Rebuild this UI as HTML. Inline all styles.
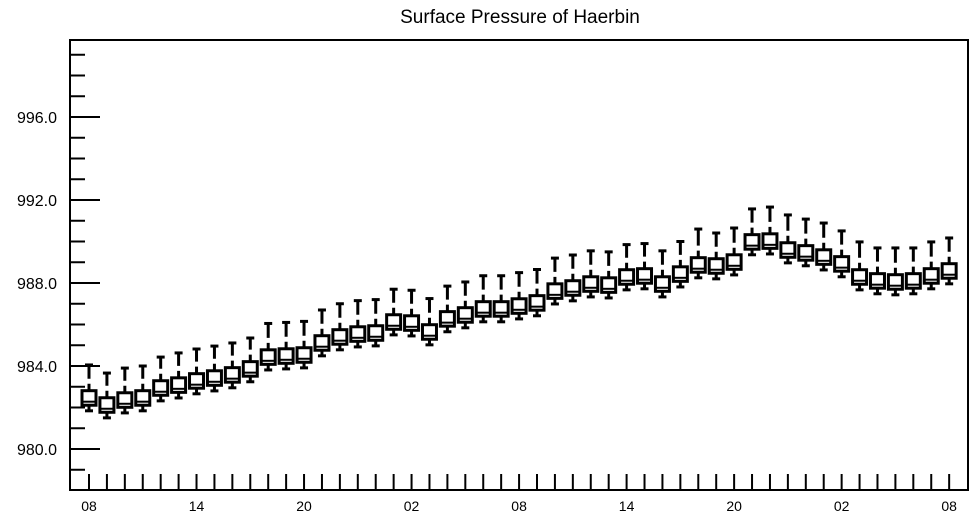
<!DOCTYPE html>
<html><head><meta charset="utf-8"><style>
body{margin:0;background:#fff}
svg{display:block;font-family:"Liberation Sans",sans-serif}
</style></head><body>
<svg id="chart" width="975" height="518" viewBox="0 0 975 518">
<text x="520" y="23" font-size="19" text-anchor="middle">Surface Pressure of Haerbin</text>
<g id="plot"></g>
<rect x="70" y="40" width="898" height="450" fill="none" stroke="#000" stroke-width="2"/>
</svg>
<script>
const xLabels=["08","14","20","02","08","14","20","02","08"];
const yTicks=[980,984,988,992,996];
const high=[984.05,983.66,983.90,984.00,984.43,984.63,984.82,984.96,985.11,985.35,986.05,986.10,986.15,986.70,987.00,987.15,987.20,987.70,987.65,987.25,987.85,988.05,988.35,988.35,988.50,988.65,989.20,989.35,989.55,989.50,989.85,989.90,989.55,990.00,990.60,990.41,990.65,991.57,991.66,991.28,991.08,990.89,990.51,989.98,989.69,989.69,989.69,989.98,990.17];
const q3=[982.81,982.47,982.71,982.81,983.29,983.43,983.63,983.77,983.92,984.21,984.78,984.83,984.88,985.46,985.75,985.89,985.94,986.47,986.42,985.99,986.62,986.81,987.10,987.10,987.24,987.39,987.96,988.11,988.30,988.25,988.64,988.69,988.30,988.78,989.22,989.17,989.36,990.33,990.37,989.94,989.80,989.60,989.27,988.64,988.45,988.40,988.45,988.69,988.93];
const median=[982.28,981.94,982.18,982.28,982.76,982.90,983.10,983.24,983.39,983.68,984.25,984.30,984.35,984.93,985.22,985.36,985.41,985.94,985.89,985.46,986.09,986.28,986.57,986.57,986.71,986.86,987.43,987.58,987.77,987.72,988.11,988.16,987.77,988.25,988.69,988.64,988.83,989.80,989.84,989.41,989.27,989.07,988.74,988.11,987.92,987.87,987.92,988.16,988.40];
const q1=[982.11,981.77,982.01,982.11,982.59,982.73,982.93,983.07,983.22,983.51,984.08,984.13,984.18,984.76,985.05,985.19,985.24,985.77,985.72,985.29,985.92,986.11,986.40,986.40,986.54,986.69,987.26,987.41,987.60,987.55,987.94,987.99,987.60,988.08,988.52,988.47,988.66,989.63,989.67,989.24,989.10,988.90,988.57,987.94,987.75,987.70,987.75,987.99,988.23];
const low=[981.84,981.50,981.74,981.84,982.32,982.46,982.66,982.80,982.95,983.24,983.81,983.86,983.91,984.49,984.78,984.92,984.97,985.50,985.45,985.02,985.65,985.84,986.13,986.13,986.27,986.42,986.99,987.14,987.33,987.28,987.67,987.72,987.33,987.81,988.25,988.20,988.39,989.36,989.40,988.97,988.83,988.63,988.30,987.67,987.48,987.43,987.48,987.72,987.96];

const NS="http://www.w3.org/2000/svg";
const g=document.getElementById('plot');
const xs=i=>89+i*17.92;
const ys=v=>117+(996-v)*20.75;
function mk(tag,attrs){const e=document.createElementNS(NS,tag);for(const k in attrs)e.setAttribute(k,attrs[k]);g.appendChild(e);return e;}
// y ticks: minor every 1, major with labels
for(let v=979;v<=999;v++){
  const major=yTicks.includes(v);
  const t=mk('line',{x1:70,x2:major?100:85,y1:ys(v),y2:ys(v),stroke:'#000','stroke-width':2});
  
  
}
yTicks.forEach(v=>{
  const t=mk('text',{x:57,y:ys(v)+6,'font-size':16,'text-anchor':'end'});
  t.textContent=v.toFixed(1);
  
  
});
// x ticks hourly
for(let i=0;i<high.length;i++){
  const t=mk('line',{x1:xs(i),x2:xs(i),y1:490,y2:474,stroke:'#000','stroke-width':2});
  
  
}
xLabels.forEach((s,k)=>{
  const t=mk('text',{x:xs(k*6),y:511,'font-size':14,'text-anchor':'middle'});
  t.textContent=s;
  
  
});
// boxes
for(let i=0;i<high.length;i++){
  const x=xs(i),yT=ys(q3[i]),yB=ys(q1[i]),yH=ys(high[i]),yL=ys(low[i]);
  const wu=mk('line',{x1:x,x2:x,y1:yT,y2:yH,stroke:'#000','stroke-width':3,'stroke-dasharray':'7,5,200'});
  
  
  const cu=mk('line',{x1:x-4,x2:x+4,y1:yH,y2:yH,stroke:'#000','stroke-width':3});
  
  
  const wl=mk('line',{x1:x,x2:x,y1:yB,y2:yL,stroke:'#000','stroke-width':3});
  
  
  const cl=mk('line',{x1:x-4,x2:x+4,y1:yL,y2:yL,stroke:'#000','stroke-width':3});
  
  
  const b=mk('rect',{x:x-7,y:yT,width:14,height:yB-yT,fill:'#fff',stroke:'#000','stroke-width':3});
  
  
  const m=mk('line',{x1:x-7,x2:x+7,y1:ys(median[i]),y2:ys(median[i]),stroke:'#000','stroke-width':2});
  
  
}
</script>
</body></html>
